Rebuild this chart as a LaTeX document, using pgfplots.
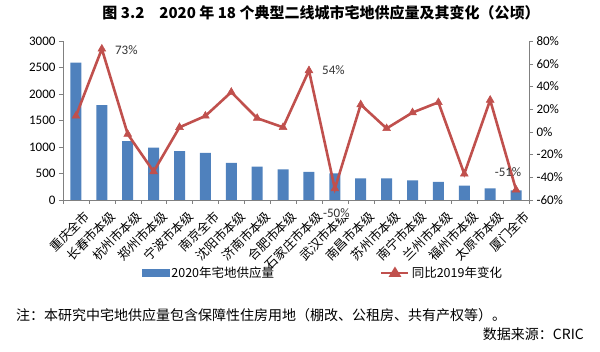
\documentclass[border=0pt]{standalone}
\usepackage{pgfplots}
\pgfplotsset{compat=1.18}
\usepackage{fontspec}
\setmainfont{Carlito}
\newfontfamily\cjk{Noto Sans CJK SC}
\definecolor{barblue}{HTML}{4F81BD}
\definecolor{linered}{HTML}{C0504D}
\begin{document}
\begin{tikzpicture}
\useasboundingbox (0pt,0pt) rectangle (600pt,352pt);
\begin{axis}[at={(63pt,152pt)}, anchor=south west, scale only axis, width=466pt, height=159pt,
  xmin=-0.5, xmax=17.5, ymin=0, ymax=3000, ytick={0,500,...,3000},
  axis x line*=bottom, axis y line*=left, axis line style={-, gray},
  ybar, bar width=11pt,
  xtick={0,...,17},
  xticklabels={重庆全市,长春市本级,杭州市本级,郑州市本级,宁波市本级,南京全市,沈阳市本级,济南市本级,合肥市本级,石家庄市本级,武汉市本级,南昌市本级,苏州市本级,南宁市本级,兰州市本级,福州市本级,太原市本级,厦门全市},
  x tick label style={rotate=45, anchor=north east, font=\cjk\fontsize{12.5}{14}\selectfont, inner sep=0pt, yshift=-9pt, xshift=1pt},
  major x tick style={draw=none},
  minor xtick={-0.5,0.5,...,17.5}, minor x tick style={gray}, minor tick length=4pt,
  tick align=outside, major tick length=4pt, y tick style={gray},
  y tick label style={font=\fontsize{13}{15}\selectfont},
  /pgf/number format/assume math mode=true,
  scaled y ticks=false, yticklabel style={/pgf/number format/1000 sep={}},
]
\addplot[fill=barblue, draw=none] coordinates {
(0,2590) (1,1790) (2,1110) (3,990) (4,920) (5,890) (6,700) (7,630) (8,580)
(9,530) (10,500) (11,410) (12,410) (13,370) (14,340) (15,270) (16,220) (17,180)};
\end{axis}
\begin{axis}[at={(63pt,152pt)}, anchor=south west, scale only axis, width=466pt, height=159pt,
  xmin=-0.5, xmax=17.5, ymin=-60, ymax=80, ytick={-60,-40,...,80},
  clip mode=individual,
  axis x line=none, axis y line*=right, axis line style={-, gray},
  tick align=outside, major tick length=4pt, y tick style={gray},
  yticklabel={\pgfmathprintnumber{\tick}\%},
  y tick label style={font=\fontsize{13}{15}\selectfont},
  /pgf/number format/assume math mode=true,
  legend style={at={(0.558,-0.459)}, anchor=center, draw=none, fill=none,
    font=\cjk\fontsize{12.5}{14}\selectfont, legend columns=2,
    /tikz/every even column/.append style={column sep=104pt}},
]
\addlegendimage{legend image code/.code={\fill[barblue] (0pt,-3.5pt) rectangle (27pt,3.5pt);}}
\addlegendentry{2020年宅地供应量}
\addplot[linered, line width=2.6pt, mark=triangle*, mark size=4.5pt, mark options={solid, line width=0.5pt},
  legend image code/.code={\draw[linered, line width=2.6pt] (0pt,0pt) -- (27pt,0pt);
    \fill[linered] (13.5pt,4pt) -- (9.5pt,-2.5pt) -- (17.5pt,-2.5pt) -- cycle;}]
coordinates {
(0,14) (1,73) (2,-2) (3,-35) (4,4) (5,14) (6,35) (7,12) (8,4)
(9,54) (10,-50) (11,24) (12,3) (13,17) (14,26) (15,-37) (16,28) (17,-51)};
\addlegendentry{同比2019年变化}
\node[font=\fontsize{13}{15}\selectfont, text=black!80] at (axis cs:1,73) [xshift=24.5pt, yshift=-1pt] {73\%};
\node[font=\fontsize{13}{15}\selectfont, text=black!80] at (axis cs:9,54) [xshift=24.5pt] {54\%};
\node[font=\fontsize{13}{15}\selectfont, text=black!80, fill=white, inner sep=0.5pt] at (axis cs:10,-50) [xshift=1.5pt, yshift=-24.5pt] {-50\%};
\node[font=\fontsize{13}{15}\selectfont, text=black!80] at (axis cs:17,-51) [xshift=-8pt, yshift=17.5pt] {-51\%};
\end{axis}
\node[font=\cjk\bfseries\fontsize{15}{17}\selectfont] at (321pt,339pt) {图 3.2\quad 2020 年 18 个典型二线城市宅地供应量及其变化（公顷）};
\node[anchor=west, font=\cjk\fontsize{14}{16}\selectfont, inner sep=0pt] at (16pt,37pt) {注：本研究中宅地供应量包含保障性住房用地（棚改、公租房、共有产权等）。};
\node[anchor=east, font=\cjk\fontsize{14}{16}\selectfont, inner sep=0pt] at (584pt,18pt) {数据来源：CRIC};
\end{tikzpicture}
\end{document}
